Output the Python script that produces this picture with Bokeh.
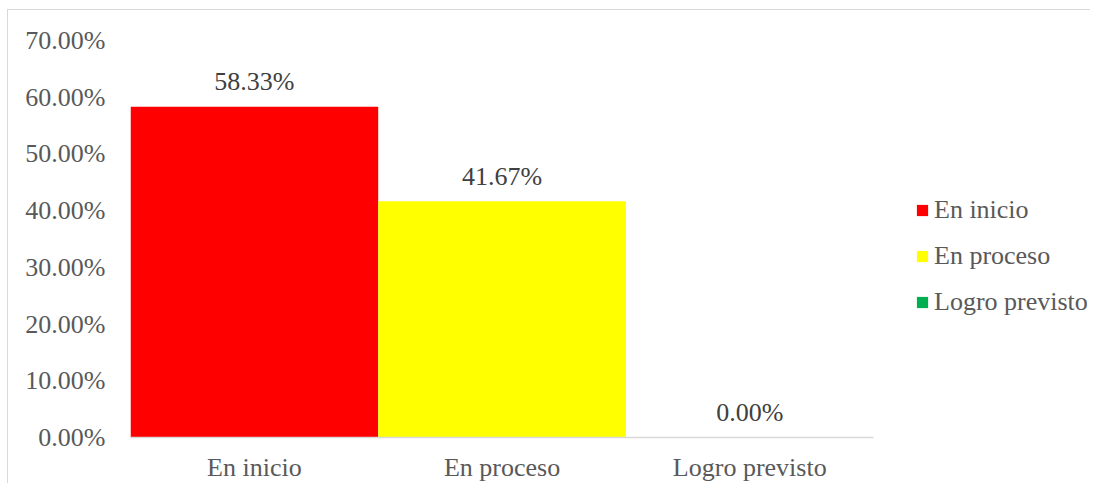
from bokeh.plotting import figure
from bokeh.models import (ColumnDataSource, LabelSet, Legend, LegendItem,
                          NumeralTickFormatter, FixedTicker)
from bokeh.embed import file_html
from bokeh.resources import INLINE

categories = ["En inicio", "En proceso", "Logro previsto"]
values = [0.5833, 0.4167, 0.0]
value_labels = ["58.33%", "41.67%", "0.00%"]
colors = ["#FF0000", "#FFFF00", "#00B050"]
y_ticks = [0.0, 0.1, 0.2, 0.3, 0.4, 0.5, 0.6, 0.7]

FONT = "Liberation Serif"
FS = "26px"

n = len(categories)
xpos = [i + 0.5 for i in range(n)]
src = ColumnDataSource(dict(x=xpos, cat=categories, val=values, lab=value_labels, col=colors))

W, H = 1083, 474
LEFT, TOP, BOTTOM = 122, 30, 47
frame_w = W - LEFT
cat_px = 247.7
x_end = frame_w / cat_px

p = figure(x_range=(0, x_end), y_range=(0, 0.70001),
           width=W, height=H, output_backend="svg", toolbar_location=None,
           min_border_left=LEFT, min_border_right=0, min_border_top=TOP, min_border_bottom=BOTTOM)
p.styles = {"border-top": "1px solid #d9d9d9", "border-left": "1px solid #d9d9d9",
            "margin-top": "9px", "margin-left": "7px", "margin-bottom": "-8px"}
p.outline_line_color = None
p.xgrid.visible = False
p.ygrid.visible = False

r = p.vbar(x="x", top="val", width=1.0, fill_color="col", line_color=None, source=src)

labels = LabelSet(x="x", y="val", text="lab", source=src, y_offset=25,
                  text_align="center", text_baseline="middle",
                  text_font=FONT, text_font_size=FS, text_color="#404040")
p.add_layout(labels)

p.yaxis.ticker = FixedTicker(ticks=y_ticks)
p.yaxis.formatter = NumeralTickFormatter(format="0.00%")
p.yaxis.axis_line_color = None
p.yaxis.major_tick_line_color = None
p.yaxis.minor_tick_line_color = None
p.yaxis.major_tick_out = 0
p.yaxis.major_tick_in = 0
p.yaxis.major_label_standoff = 25
p.yaxis.major_label_text_font = FONT
p.yaxis.major_label_text_font_size = FS
p.yaxis.major_label_text_color = "#595959"

p.xaxis.ticker = FixedTicker(ticks=xpos)
p.xaxis.major_label_overrides = {x: c for x, c in zip(xpos, categories)}
p.xaxis.bounds = (0, n)
p.xaxis.axis_line_color = "#d9d9d9"
p.xaxis.axis_line_width = 1.5
p.xaxis.major_tick_line_color = None
p.xaxis.minor_tick_line_color = None
p.xaxis.major_tick_out = 0
p.xaxis.major_tick_in = 0
p.xaxis.major_label_standoff = 15
p.xaxis.major_label_text_font = FONT
p.xaxis.major_label_text_font_size = FS
p.xaxis.major_label_text_color = "#595959"

items = [LegendItem(label=c, renderers=[r], index=i) for i, c in enumerate(categories)]
legend = Legend(items=items, location=(785, 120), padding=0, margin=0,
                border_line_color=None, background_fill_alpha=0,
                glyph_width=14, glyph_height=14, label_standoff=5,
                label_height=20, spacing=16,
                label_text_font=FONT, label_text_font_size=FS,
                label_text_color="#595959")
p.add_layout(legend)

open("out.html", "w").write(file_html(p, INLINE))
